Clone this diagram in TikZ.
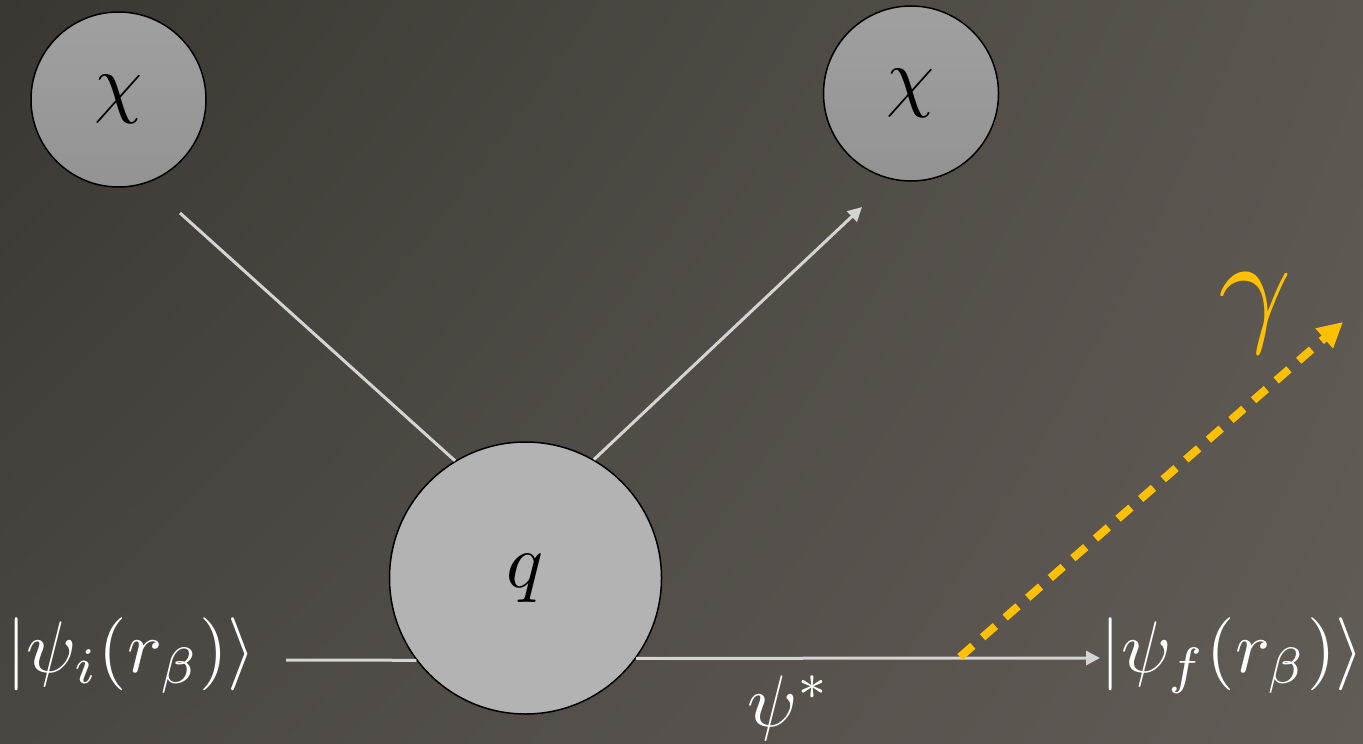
\documentclass[tikz,border=0pt]{standalone}
\usetikzlibrary{arrows.meta,shadings}
\definecolor{bgTL}{HTML}{3A3732}
\definecolor{bgTR}{HTML}{5B5650}
\definecolor{bgBL}{HTML}{4A4641}
\definecolor{bgBR}{HTML}{625C57}
\definecolor{linegray}{HTML}{D4D4D4}
\definecolor{photon}{HTML}{FFC000}
\definecolor{chitop}{HTML}{A0A0A0}
\definecolor{chibot}{HTML}{939393}
\definecolor{qfill}{HTML}{B3B3B3}
\begin{document}
\begin{tikzpicture}[x=0.5pt,y=-0.5pt,
  particle/.style={circle, draw=black, line width=0.75pt, inner sep=0pt},
  chinode/.style={particle, minimum size=87.5pt, top color=chitop, bottom color=chibot},
  qnode/.style={particle, minimum size=136pt, fill=qfill},
  ketlabel/.style={text=white, inner sep=0pt, scale=3.65},
  prop/.style={draw=linegray, line width=1.5pt},
  proparrow/.style={prop, -{Triangle[length=7pt,width=7pt]}},
  photonline/.style={draw=photon, line width=4pt, dash pattern=on 8.5pt off 6.5pt, -{Triangle[length=12.5pt,width=12.5pt]}}
]
\useasboundingbox (0,0) rectangle (1363,743);
\shade[upper left=bgTL, upper right=bgTR, lower left=bgBL, lower right=bgBR] (0,0) rectangle (1363,743);

\node[chinode] (chiL) at (118.5,99.5) {\scalebox{3.85}{$\chi$}};
\node[chinode] (chiR) at (911,93.5) {\scalebox{3.85}{$\chi$}};
\node[qnode] (q) at (525.5,578) {\scalebox{3.85}{$q$}};

\coordinate (inL) at (286,660);
\coordinate (outR) at (1100,658);
\coordinate (chiLout) at (180,213);
\coordinate (chiRin) at (862,207);
\coordinate (vertex) at (960,657);
\coordinate (gammaTip) at (1343,322);

\draw[prop] (chiLout) -- (q.121.5);
\draw[proparrow] (q.60.4) -- (chiRin);
\draw[prop] (inL) -- (q.217.1);
\draw[proparrow] (q.-36.6) -- (outR);
\draw[photonline] (vertex) -- (gammaTip);

\node[ketlabel] (ketI) at (131.5,656) {$|\psi_i(r_\beta)\rangle$};
\node[ketlabel] (ketF) at (1232.5,656) {$|\psi_f(r_\beta)\rangle$};
\node[ketlabel, anchor=base] (psiStar) at (789,726) {$\psi^*$};
\node[text=photon, inner sep=0pt, scale=6.4] (gammaLbl) at (1255,313) {$\gamma$};
\end{tikzpicture}
\end{document}
